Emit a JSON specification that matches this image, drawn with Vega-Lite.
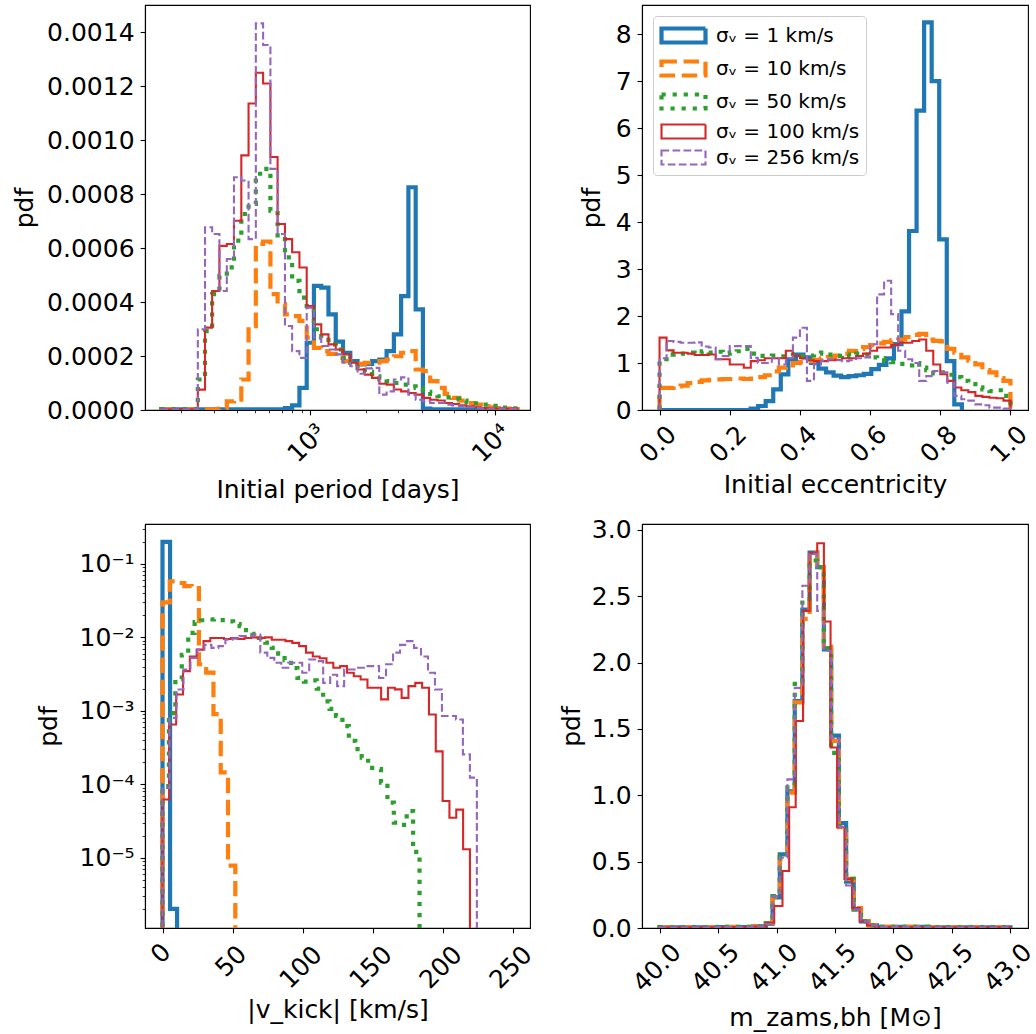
{
"$schema": "https://vega.github.io/schema/vega-lite/v6.json",
"autosize": {"type": "pad"},
"padding": {"left": 11, "top": 4, "right": 5, "bottom": 5},
"config": {
 "font": "DejaVu Sans",
 "view": {"stroke": "black", "strokeWidth": 1.1},
 "axis": {"grid": false, "domainColor": "black", "domainWidth": 1.1, "tickColor": "black", "tickWidth": 1.1, "tickSize": 4.9, "labelFont": "DejaVu Sans", "labelFontSize": 25, "labelColor": "black", "titleFont": "DejaVu Sans", "titleFontSize": 25, "titleFontWeight": "normal", "titleColor": "black", "labelFlush": false, "labelOverlap": false, "labelBound": false, "labelPadding": 6},
 "axisX": {"labelAngle": -45, "labelAlign": "center", "labelBaseline": "middle", "titleBaseline": "alphabetic"},
 "axisY": {"titleBaseline": "bottom", "titleAngle": -90},
 "legend": {"orient": "top-left", "offset": 11, "padding": 6, "fillColor": "rgba(255,255,255,0.8)", "strokeColor": "#cccccc", "cornerRadius": 4, "symbolType": "M-1,-0.636L3,-0.636L3,0.636L-1,0.636Z", "symbolSize": 484, "symbolFillColor": "transparent", "labelFont": "DejaVu Sans", "labelFontSize": 20, "labelColor": "black", "labelOffset": 30, "rowPadding": 2}
},
"datasets": {
"tl": [
{"s":"1","x":155.9,"y":0},{"s":"1","x":156,"y":0.000002},{"s":"1","x":729,"y":0.000007},{"s":"1","x":797,"y":0.000017},{"s":"1","x":873,"y":0.000082},{"s":"1","x":956,"y":0.000249},{"s":"1","x":1046,"y":0.00046},{"s":"1","x":1146,"y":0.000453},{"s":"1","x":1254,"y":0.000354},{"s":"1","x":1373,"y":0.000253},{"s":"1","x":1503,"y":0.000212},{"s":"1","x":1646,"y":0.000181},{"s":"1","x":1802,"y":0.000169},{"s":"1","x":1972,"y":0.000171},{"s":"1","x":2160,"y":0.000181},{"s":"1","x":2364,"y":0.000187},{"s":"1","x":2588,"y":0.000218},{"s":"1","x":2834,"y":0.00028},{"s":"1","x":3102,"y":0.000422},{"s":"1","x":3397,"y":0.000825},{"s":"1","x":3719,"y":0.000373},{"s":"1","x":4071,"y":0.000005},{"s":"1","x":4458,"y":0.000002},{"s":"1","x":13218,"y":0},
{"s":"10","x":155.9,"y":0},{"s":"10","x":156,"y":0.000002},{"s":"10","x":322,"y":0.000005},{"s":"10","x":353,"y":0.000032},{"s":"10","x":386,"y":0.000038},{"s":"10","x":423,"y":0.000113},{"s":"10","x":463,"y":0.000311},{"s":"10","x":507,"y":0.000615},{"s":"10","x":555,"y":0.000624},{"s":"10","x":608,"y":0.000429},{"s":"10","x":665,"y":0.000392},{"s":"10","x":729,"y":0.000354},{"s":"10","x":797,"y":0.000348},{"s":"10","x":873,"y":0.00033},{"s":"10","x":956,"y":0.000268},{"s":"10","x":1046,"y":0.00023},{"s":"10","x":1146,"y":0.000218},{"s":"10","x":1254,"y":0.000208},{"s":"10","x":1373,"y":0.000193},{"s":"10","x":1503,"y":0.000181},{"s":"10","x":1646,"y":0.000175},{"s":"10","x":1802,"y":0.000171},{"s":"10","x":1972,"y":0.000175},{"s":"10","x":2364,"y":0.000181},{"s":"10","x":2588,"y":0.000187},{"s":"10","x":2834,"y":0.000199},{"s":"10","x":3102,"y":0.000212},{"s":"10","x":3397,"y":0.000218},{"s":"10","x":3719,"y":0.00015},{"s":"10","x":4071,"y":0.000144},{"s":"10","x":4458,"y":0.000107},{"s":"10","x":4880,"y":0.000082},{"s":"10","x":5343,"y":0.00006},{"s":"10","x":5849,"y":0.000045},{"s":"10","x":6403,"y":0.000035},{"s":"10","x":7012,"y":0.000026},{"s":"10","x":7676,"y":0.00002},{"s":"10","x":8404,"y":0.000014},{"s":"10","x":9201,"y":0.00001},{"s":"10","x":10072,"y":0.000007},{"s":"10","x":11027,"y":0.000005},{"s":"10","x":12073,"y":0.000003},{"s":"10","x":13218,"y":0},
{"s":"50","x":155.9,"y":0},{"s":"50","x":156,"y":0.000003},{"s":"50","x":246,"y":0.000113},{"s":"50","x":269,"y":0.000292},{"s":"50","x":294,"y":0.000429},{"s":"50","x":322,"y":0.000497},{"s":"50","x":353,"y":0.000528},{"s":"50","x":386,"y":0.000627},{"s":"50","x":423,"y":0.000726},{"s":"50","x":463,"y":0.000763},{"s":"50","x":507,"y":0.000875},{"s":"50","x":555,"y":0.000893},{"s":"50","x":608,"y":0.000738},{"s":"50","x":665,"y":0.000633},{"s":"50","x":729,"y":0.000565},{"s":"50","x":797,"y":0.000478},{"s":"50","x":873,"y":0.000416},{"s":"50","x":956,"y":0.000385},{"s":"50","x":1046,"y":0.000299},{"s":"50","x":1146,"y":0.000268},{"s":"50","x":1254,"y":0.000243},{"s":"50","x":1373,"y":0.000224},{"s":"50","x":1503,"y":0.000193},{"s":"50","x":1646,"y":0.000175},{"s":"50","x":1802,"y":0.000156},{"s":"50","x":1972,"y":0.000141},{"s":"50","x":2160,"y":0.000125},{"s":"50","x":2364,"y":0.000113},{"s":"50","x":2588,"y":0.000107},{"s":"50","x":2834,"y":0.0001},{"s":"50","x":3102,"y":0.000094},{"s":"50","x":3397,"y":0.000088},{"s":"50","x":3719,"y":0.000082},{"s":"50","x":4071,"y":0.000067},{"s":"50","x":4458,"y":0.00006},{"s":"50","x":4880,"y":0.000051},{"s":"50","x":5343,"y":0.000047},{"s":"50","x":5849,"y":0.000042},{"s":"50","x":6403,"y":0.000035},{"s":"50","x":7012,"y":0.00003},{"s":"50","x":7676,"y":0.000025},{"s":"50","x":8404,"y":0.00002},{"s":"50","x":9201,"y":0.000015},{"s":"50","x":10072,"y":0.000012},{"s":"50","x":11027,"y":0.000009},{"s":"50","x":12073,"y":0.000006},{"s":"50","x":13218,"y":0},
{"s":"100","x":155.9,"y":0},{"s":"100","x":156,"y":0.000003},{"s":"100","x":246,"y":0.0000756},{"s":"100","x":269,"y":0.000305},{"s":"100","x":294,"y":0.000441},{"s":"100","x":322,"y":0.000608},{"s":"100","x":353,"y":0.000615},{"s":"100","x":386,"y":0.000701},{"s":"100","x":423,"y":0.000943},{"s":"100","x":463,"y":0.001135},{"s":"100","x":507,"y":0.001249},{"s":"100","x":555,"y":0.001209},{"s":"100","x":608,"y":0.000937},{"s":"100","x":665,"y":0.000689},{"s":"100","x":729,"y":0.000633},{"s":"100","x":797,"y":0.000584},{"s":"100","x":873,"y":0.000528},{"s":"100","x":956,"y":0.000385},{"s":"100","x":1046,"y":0.000317},{"s":"100","x":1146,"y":0.00028},{"s":"100","x":1254,"y":0.000243},{"s":"100","x":1373,"y":0.000224},{"s":"100","x":1503,"y":0.000206},{"s":"100","x":1646,"y":0.000175},{"s":"100","x":1802,"y":0.00015},{"s":"100","x":1972,"y":0.000131},{"s":"100","x":2160,"y":0.000119},{"s":"100","x":2364,"y":0.000097},{"s":"100","x":2588,"y":0.000094},{"s":"100","x":2834,"y":0.000076},{"s":"100","x":3102,"y":0.000069},{"s":"100","x":3397,"y":0.000063},{"s":"100","x":3719,"y":0.000057},{"s":"100","x":4071,"y":0.000045},{"s":"100","x":4458,"y":0.000038},{"s":"100","x":4880,"y":0.000035},{"s":"100","x":5343,"y":0.000026},{"s":"100","x":5849,"y":0.000022},{"s":"100","x":6403,"y":0.000017},{"s":"100","x":7012,"y":0.000014},{"s":"100","x":7676,"y":0.00001},{"s":"100","x":8404,"y":0.000007},{"s":"100","x":9201,"y":0.000005},{"s":"100","x":13218,"y":0},
{"s":"256","x":155.9,"y":0},{"s":"256","x":156,"y":0.000003},{"s":"256","x":246,"y":0.000299},{"s":"256","x":269,"y":0.000677},{"s":"256","x":294,"y":0.000652},{"s":"256","x":322,"y":0.000441},{"s":"256","x":353,"y":0.000559},{"s":"256","x":386,"y":0.000862},{"s":"256","x":423,"y":0.00085},{"s":"256","x":463,"y":0.000633},{"s":"256","x":507,"y":0.001432},{"s":"256","x":555,"y":0.001352},{"s":"256","x":608,"y":0.000893},{"s":"256","x":665,"y":0.000652},{"s":"256","x":729,"y":0.000311},{"s":"256","x":797,"y":0.000218},{"s":"256","x":873,"y":0.000193},{"s":"256","x":956,"y":0.000379},{"s":"256","x":1046,"y":0.000268},{"s":"256","x":1146,"y":0.000237},{"s":"256","x":1254,"y":0.000224},{"s":"256","x":1373,"y":0.000206},{"s":"256","x":1503,"y":0.000175},{"s":"256","x":1646,"y":0.000162},{"s":"256","x":1802,"y":0.000134},{"s":"256","x":1972,"y":0.000154},{"s":"256","x":2160,"y":0.000156},{"s":"256","x":2364,"y":0.000057},{"s":"256","x":2588,"y":0.000069},{"s":"256","x":2834,"y":0.000113},{"s":"256","x":3102,"y":0.000121},{"s":"256","x":3397,"y":0.000057},{"s":"256","x":3719,"y":0.000038},{"s":"256","x":4071,"y":0.000032},{"s":"256","x":4458,"y":0.000026},{"s":"256","x":5343,"y":0.00002},{"s":"256","x":5849,"y":0.000017},{"s":"256","x":6403,"y":0.000014},{"s":"256","x":7012,"y":0.00001},{"s":"256","x":7676,"y":0.000007},{"s":"256","x":8404,"y":0.000005},{"s":"256","x":13218,"y":0}
],
"tr": [
{"s":"1","x":-0.0001,"y":0},{"s":"1","x":0.2595,"y":0.03},{"s":"1","x":0.281,"y":0.085},{"s":"1","x":0.3025,"y":0.19},{"s":"1","x":0.324,"y":0.44},{"s":"1","x":0.3455,"y":0.76},{"s":"1","x":0.367,"y":1.08},{"s":"1","x":0.3885,"y":1.18},{"s":"1","x":0.41,"y":1.12},{"s":"1","x":0.4315,"y":1.0},{"s":"1","x":0.453,"y":0.88},{"s":"1","x":0.4745,"y":0.8},{"s":"1","x":0.496,"y":0.73},{"s":"1","x":0.5175,"y":0.7},{"s":"1","x":0.539,"y":0.72},{"s":"1","x":0.5605,"y":0.74},{"s":"1","x":0.582,"y":0.77},{"s":"1","x":0.6035,"y":0.87},{"s":"1","x":0.625,"y":0.96},{"s":"1","x":0.6465,"y":1.1},{"s":"1","x":0.668,"y":1.4},{"s":"1","x":0.6895,"y":2.1},{"s":"1","x":0.711,"y":3.81},{"s":"1","x":0.7325,"y":6.37},{"s":"1","x":0.754,"y":8.25},{"s":"1","x":0.7755,"y":7.0},{"s":"1","x":0.797,"y":3.63},{"s":"1","x":0.8185,"y":1.04},{"s":"1","x":0.84,"y":0.12},{"s":"1","x":0.8615,"y":0},
{"s":"10","x":-0.0001,"y":0},{"s":"10","x":0,"y":0.47},{"s":"10","x":0.04,"y":0.5},{"s":"10","x":0.06,"y":0.52},{"s":"10","x":0.08,"y":0.57},{"s":"10","x":0.1,"y":0.6},{"s":"10","x":0.12,"y":0.63},{"s":"10","x":0.14,"y":0.64},{"s":"10","x":0.16,"y":0.65},{"s":"10","x":0.18,"y":0.66},{"s":"10","x":0.22,"y":0.67},{"s":"10","x":0.24,"y":0.66},{"s":"10","x":0.26,"y":0.67},{"s":"10","x":0.28,"y":0.7},{"s":"10","x":0.3,"y":0.74},{"s":"10","x":0.32,"y":0.82},{"s":"10","x":0.34,"y":0.9},{"s":"10","x":0.36,"y":0.95},{"s":"10","x":0.38,"y":1.0},{"s":"10","x":0.4,"y":1.02},{"s":"10","x":0.42,"y":1.04},{"s":"10","x":0.44,"y":1.07},{"s":"10","x":0.46,"y":1.1},{"s":"10","x":0.48,"y":1.13},{"s":"10","x":0.5,"y":1.16},{"s":"10","x":0.52,"y":1.2},{"s":"10","x":0.54,"y":1.26},{"s":"10","x":0.56,"y":1.3},{"s":"10","x":0.58,"y":1.34},{"s":"10","x":0.6,"y":1.38},{"s":"10","x":0.62,"y":1.42},{"s":"10","x":0.64,"y":1.45},{"s":"10","x":0.66,"y":1.48},{"s":"10","x":0.68,"y":1.5},{"s":"10","x":0.7,"y":1.55},{"s":"10","x":0.72,"y":1.6},{"s":"10","x":0.74,"y":1.62},{"s":"10","x":0.76,"y":1.5},{"s":"10","x":0.78,"y":1.47},{"s":"10","x":0.8,"y":1.46},{"s":"10","x":0.82,"y":1.3},{"s":"10","x":0.84,"y":1.22},{"s":"10","x":0.86,"y":1.12},{"s":"10","x":0.88,"y":1.05},{"s":"10","x":0.9,"y":0.97},{"s":"10","x":0.92,"y":0.85},{"s":"10","x":0.94,"y":0.8},{"s":"10","x":0.96,"y":0.68},{"s":"10","x":0.98,"y":0.62},{"s":"10","x":1.0,"y":0},
{"s":"50","x":-0.0001,"y":0},{"s":"50","x":0,"y":1.08},{"s":"50","x":0.02,"y":1.18},{"s":"50","x":0.04,"y":1.2},{"s":"50","x":0.08,"y":1.22},{"s":"50","x":0.1,"y":1.2},{"s":"50","x":0.12,"y":1.25},{"s":"50","x":0.14,"y":1.22},{"s":"50","x":0.16,"y":1.24},{"s":"50","x":0.18,"y":1.2},{"s":"50","x":0.2,"y":1.22},{"s":"50","x":0.22,"y":1.25},{"s":"50","x":0.24,"y":1.3},{"s":"50","x":0.26,"y":1.2},{"s":"50","x":0.28,"y":1.15},{"s":"50","x":0.32,"y":1.16},{"s":"50","x":0.34,"y":1.14},{"s":"50","x":0.36,"y":1.15},{"s":"50","x":0.38,"y":1.18},{"s":"50","x":0.4,"y":1.15},{"s":"50","x":0.42,"y":1.16},{"s":"50","x":0.44,"y":1.2},{"s":"50","x":0.46,"y":1.22},{"s":"50","x":0.48,"y":1.18},{"s":"50","x":0.5,"y":1.15},{"s":"50","x":0.52,"y":1.18},{"s":"50","x":0.54,"y":1.15},{"s":"50","x":0.56,"y":1.2},{"s":"50","x":0.58,"y":1.18},{"s":"50","x":0.6,"y":1.12},{"s":"50","x":0.62,"y":1.1},{"s":"50","x":0.64,"y":1.04},{"s":"50","x":0.66,"y":1.02},{"s":"50","x":0.68,"y":0.98},{"s":"50","x":0.7,"y":0.95},{"s":"50","x":0.72,"y":1.0},{"s":"50","x":0.74,"y":0.9},{"s":"50","x":0.76,"y":0.85},{"s":"50","x":0.78,"y":0.78},{"s":"50","x":0.8,"y":0.8},{"s":"50","x":0.82,"y":0.75},{"s":"50","x":0.84,"y":0.7},{"s":"50","x":0.86,"y":0.62},{"s":"50","x":0.88,"y":0.55},{"s":"50","x":0.9,"y":0.48},{"s":"50","x":0.92,"y":0.44},{"s":"50","x":0.94,"y":0.4},{"s":"50","x":0.96,"y":0.42},{"s":"50","x":0.98,"y":0.3},{"s":"50","x":1.0,"y":0},
{"s":"100","x":-0.0001,"y":0},{"s":"100","x":0,"y":1.54},{"s":"100","x":0.02,"y":1.27},{"s":"100","x":0.04,"y":1.22},{"s":"100","x":0.08,"y":1.2},{"s":"100","x":0.1,"y":1.17},{"s":"100","x":0.14,"y":1.18},{"s":"100","x":0.16,"y":1.08},{"s":"100","x":0.2,"y":0.97},{"s":"100","x":0.24,"y":0.9},{"s":"100","x":0.26,"y":1.04},{"s":"100","x":0.28,"y":1.06},{"s":"100","x":0.3,"y":1.1},{"s":"100","x":0.36,"y":1.26},{"s":"100","x":0.38,"y":1.15},{"s":"100","x":0.4,"y":1.1},{"s":"100","x":0.42,"y":1.06},{"s":"100","x":0.44,"y":1.04},{"s":"100","x":0.48,"y":1.06},{"s":"100","x":0.5,"y":1.07},{"s":"100","x":0.52,"y":1.1},{"s":"100","x":0.56,"y":1.15},{"s":"100","x":0.58,"y":1.2},{"s":"100","x":0.6,"y":1.26},{"s":"100","x":0.62,"y":1.33},{"s":"100","x":0.66,"y":1.38},{"s":"100","x":0.68,"y":1.43},{"s":"100","x":0.72,"y":1.47},{"s":"100","x":0.74,"y":1.5},{"s":"100","x":0.76,"y":1.26},{"s":"100","x":0.78,"y":0.97},{"s":"100","x":0.8,"y":0.76},{"s":"100","x":0.82,"y":0.62},{"s":"100","x":0.84,"y":0.48},{"s":"100","x":0.86,"y":0.42},{"s":"100","x":0.88,"y":0.38},{"s":"100","x":0.9,"y":0.3},{"s":"100","x":0.92,"y":0.28},{"s":"100","x":0.94,"y":0.26},{"s":"100","x":0.96,"y":0.25},{"s":"100","x":0.98,"y":0.2},{"s":"100","x":1.0,"y":0},
{"s":"256","x":-0.0001,"y":0},{"s":"256","x":0,"y":1.1},{"s":"256","x":0.02,"y":1.47},{"s":"256","x":0.04,"y":1.45},{"s":"256","x":0.06,"y":1.43},{"s":"256","x":0.1,"y":1.44},{"s":"256","x":0.12,"y":1.35},{"s":"256","x":0.14,"y":1.33},{"s":"256","x":0.16,"y":1.08},{"s":"256","x":0.18,"y":1.15},{"s":"256","x":0.2,"y":1.36},{"s":"256","x":0.26,"y":1.11},{"s":"256","x":0.28,"y":1.0},{"s":"256","x":0.32,"y":1.1},{"s":"256","x":0.34,"y":0.97},{"s":"256","x":0.36,"y":1.1},{"s":"256","x":0.38,"y":1.54},{"s":"256","x":0.4,"y":1.75},{"s":"256","x":0.42,"y":0.62},{"s":"256","x":0.44,"y":0.97},{"s":"256","x":0.46,"y":1.05},{"s":"256","x":0.48,"y":1.08},{"s":"256","x":0.5,"y":1.06},{"s":"256","x":0.52,"y":1.04},{"s":"256","x":0.54,"y":1.06},{"s":"256","x":0.56,"y":1.1},{"s":"256","x":0.58,"y":1.12},{"s":"256","x":0.6,"y":1.4},{"s":"256","x":0.62,"y":2.46},{"s":"256","x":0.64,"y":2.75},{"s":"256","x":0.66,"y":2.04},{"s":"256","x":0.68,"y":1.26},{"s":"256","x":0.7,"y":1.08},{"s":"256","x":0.72,"y":1.0},{"s":"256","x":0.74,"y":0.62},{"s":"256","x":0.76,"y":0.72},{"s":"256","x":0.78,"y":0.83},{"s":"256","x":0.8,"y":0.8},{"s":"256","x":0.82,"y":0.58},{"s":"256","x":0.84,"y":0.3},{"s":"256","x":0.86,"y":0.23},{"s":"256","x":0.88,"y":0.2},{"s":"256","x":0.9,"y":0.12},{"s":"256","x":0.92,"y":0.1},{"s":"256","x":0.94,"y":0.05},{"s":"256","x":0.98,"y":0.03},{"s":"256","x":1.0,"y":0}
],
"bl": [
{"s":"1","x":-0.01,"y":1e-7},{"s":"1","x":0,"y":0.2},{"s":"1","x":5.4,"y":0.000002},{"s":"1","x":10.4,"y":1e-7},
{"s":"10","x":-0.01,"y":1e-7},{"s":"10","x":0,"y":0.03},{"s":"10","x":5.2,"y":0.058},{"s":"10","x":10.4,"y":0.055},{"s":"10","x":15.6,"y":0.05},{"s":"10","x":20.8,"y":0.047},{"s":"10","x":26,"y":0.0043},{"s":"10","x":31.2,"y":0.0033},{"s":"10","x":36.4,"y":0.0009},{"s":"10","x":41.6,"y":0.000145},{"s":"10","x":46.8,"y":0.0000078},{"s":"10","x":52,"y":1e-7},
{"s":"50","x":-0.01,"y":1e-7},{"s":"50","x":0,"y":0.000094},{"s":"50","x":4.59,"y":0.00093},{"s":"50","x":9.18,"y":0.0027},{"s":"50","x":13.77,"y":0.0058},{"s":"50","x":18.36,"y":0.0115},{"s":"50","x":22.95,"y":0.0161},{"s":"50","x":27.54,"y":0.0171},{"s":"50","x":32.13,"y":0.0175},{"s":"50","x":36.72,"y":0.0176},{"s":"50","x":41.31,"y":0.0172},{"s":"50","x":45.9,"y":0.0165},{"s":"50","x":50.49,"y":0.0152},{"s":"50","x":55.08,"y":0.0142},{"s":"50","x":59.67,"y":0.0125},{"s":"50","x":64.26,"y":0.0112},{"s":"50","x":68.85,"y":0.0098},{"s":"50","x":73.44,"y":0.0085},{"s":"50","x":78.03,"y":0.0072},{"s":"50","x":82.62,"y":0.006},{"s":"50","x":87.21,"y":0.0049},{"s":"50","x":91.8,"y":0.0038},{"s":"50","x":96.39,"y":0.0028},{"s":"50","x":100.98,"y":0.0025},{"s":"50","x":105.57,"y":0.0026},{"s":"50","x":110.16,"y":0.002},{"s":"50","x":114.75,"y":0.00134},{"s":"50","x":119.34,"y":0.00106},{"s":"50","x":123.93,"y":0.00085},{"s":"50","x":128.52,"y":0.00062},{"s":"50","x":133.11,"y":0.00039},{"s":"50","x":137.7,"y":0.0003},{"s":"50","x":142.29,"y":0.00023},{"s":"50","x":146.88,"y":0.000167},{"s":"50","x":151.47,"y":0.00016},{"s":"50","x":156.06,"y":0.000105},{"s":"50","x":160.65,"y":0.000056},{"s":"50","x":165.24,"y":0.00003},{"s":"50","x":169.83,"y":0.000028},{"s":"50","x":174.42,"y":0.000043},{"s":"50","x":179.01,"y":0.000012},{"s":"50","x":183.6,"y":1e-7},
{"s":"100","x":-0.01,"y":1e-7},{"s":"100","x":0,"y":0.000062},{"s":"100","x":4.88,"y":0.00065},{"s":"100","x":9.76,"y":0.00167},{"s":"100","x":14.64,"y":0.00347},{"s":"100","x":19.52,"y":0.0055},{"s":"100","x":24.4,"y":0.0068},{"s":"100","x":29.28,"y":0.0089},{"s":"100","x":34.16,"y":0.0098},{"s":"100","x":43.92,"y":0.0095},{"s":"100","x":48.8,"y":0.0098},{"s":"100","x":53.68,"y":0.0095},{"s":"100","x":58.56,"y":0.0098},{"s":"100","x":63.44,"y":0.01},{"s":"100","x":68.32,"y":0.0098},{"s":"100","x":73.2,"y":0.01},{"s":"100","x":78.08,"y":0.0093},{"s":"100","x":87.84,"y":0.0089},{"s":"100","x":92.72,"y":0.0084},{"s":"100","x":97.6,"y":0.0076},{"s":"100","x":102.48,"y":0.0062},{"s":"100","x":107.36,"y":0.0055},{"s":"100","x":112.24,"y":0.0052},{"s":"100","x":117.12,"y":0.0045},{"s":"100","x":122,"y":0.00385},{"s":"100","x":126.88,"y":0.00406},{"s":"100","x":131.76,"y":0.0033},{"s":"100","x":136.64,"y":0.00296},{"s":"100","x":141.52,"y":0.00267},{"s":"100","x":146.4,"y":0.00206},{"s":"100","x":156.16,"y":0.00143},{"s":"100","x":161.04,"y":0.00206},{"s":"100","x":165.92,"y":0.00196},{"s":"100","x":170.8,"y":0.0015},{"s":"100","x":175.68,"y":0.00217},{"s":"100","x":180.56,"y":0.0024},{"s":"100","x":185.44,"y":0.00206},{"s":"100","x":190.32,"y":0.00089},{"s":"100","x":195.2,"y":0.00028},{"s":"100","x":200.08,"y":0.000059},{"s":"100","x":204.96,"y":0.000035},{"s":"100","x":209.84,"y":0.000045},{"s":"100","x":214.72,"y":0.000013},{"s":"100","x":219.6,"y":1e-7},
{"s":"256","x":-0.01,"y":1e-7},{"s":"256","x":0,"y":0.000089},{"s":"256","x":4.99,"y":0.0008},{"s":"256","x":9.98,"y":0.00195},{"s":"256","x":14.97,"y":0.00365},{"s":"256","x":19.96,"y":0.00525},{"s":"256","x":24.95,"y":0.0068},{"s":"256","x":29.94,"y":0.0079},{"s":"256","x":34.93,"y":0.0072},{"s":"256","x":39.92,"y":0.0076},{"s":"256","x":44.91,"y":0.0093},{"s":"256","x":49.9,"y":0.0096},{"s":"256","x":54.89,"y":0.0104},{"s":"256","x":64.87,"y":0.0109},{"s":"256","x":69.86,"y":0.0062},{"s":"256","x":74.85,"y":0.00525},{"s":"256","x":79.84,"y":0.0045},{"s":"256","x":84.83,"y":0.00385},{"s":"256","x":89.82,"y":0.0045},{"s":"256","x":99.8,"y":0.0033},{"s":"256","x":104.79,"y":0.005},{"s":"256","x":109.78,"y":0.00475},{"s":"256","x":114.77,"y":0.0024},{"s":"256","x":119.76,"y":0.0031},{"s":"256","x":124.75,"y":0.00217},{"s":"256","x":129.74,"y":0.00365},{"s":"256","x":139.72,"y":0.00385},{"s":"256","x":144.71,"y":0.00406},{"s":"256","x":154.69,"y":0.0028},{"s":"256","x":159.68,"y":0.0043},{"s":"256","x":164.67,"y":0.0062},{"s":"256","x":169.66,"y":0.0079},{"s":"256","x":174.65,"y":0.0089},{"s":"256","x":179.64,"y":0.0072},{"s":"256","x":184.63,"y":0.0055},{"s":"256","x":189.62,"y":0.0033},{"s":"256","x":194.61,"y":0.00195},{"s":"256","x":199.6,"y":0.00085},{"s":"256","x":209.58,"y":0.00076},{"s":"256","x":214.57,"y":0.000255},{"s":"256","x":219.56,"y":0.000123},{"s":"256","x":224.55,"y":1e-7}
],
"br": [
{"s":"1","x":39.999,"y":0},{"s":"1","x":40,"y":0.005},{"s":"1","x":40.5,"y":0.007},{"s":"1","x":40.8,"y":0.012},{"s":"1","x":40.909,"y":0.03},{"s":"1","x":40.966,"y":0.23},{"s":"1","x":41.028,"y":0.555},{"s":"1","x":41.093,"y":1.03},{"s":"1","x":41.156,"y":1.71},{"s":"1","x":41.221,"y":2.4},{"s":"1","x":41.283,"y":2.83},{"s":"1","x":41.348,"y":2.72},{"s":"1","x":41.405,"y":2.1},{"s":"1","x":41.467,"y":1.45},{"s":"1","x":41.533,"y":0.79},{"s":"1","x":41.595,"y":0.35},{"s":"1","x":41.66,"y":0.14},{"s":"1","x":41.722,"y":0.05},{"s":"1","x":41.788,"y":0.02},{"s":"1","x":41.858,"y":0.008},{"s":"1","x":42.3,"y":0.005},{"s":"1","x":43,"y":0},
{"s":"10","x":39.999,"y":0},{"s":"10","x":40,"y":0.005},{"s":"10","x":40.5,"y":0.008},{"s":"10","x":40.8,"y":0.012},{"s":"10","x":40.909,"y":0.035},{"s":"10","x":40.966,"y":0.23},{"s":"10","x":41.028,"y":0.52},{"s":"10","x":41.093,"y":1.02},{"s":"10","x":41.156,"y":1.7},{"s":"10","x":41.221,"y":2.33},{"s":"10","x":41.283,"y":2.83},{"s":"10","x":41.348,"y":2.74},{"s":"10","x":41.405,"y":2.12},{"s":"10","x":41.467,"y":1.41},{"s":"10","x":41.533,"y":0.76},{"s":"10","x":41.595,"y":0.37},{"s":"10","x":41.66,"y":0.15},{"s":"10","x":41.722,"y":0.05},{"s":"10","x":41.788,"y":0.02},{"s":"10","x":41.858,"y":0.008},{"s":"10","x":42.3,"y":0.005},{"s":"10","x":43,"y":0},
{"s":"50","x":39.999,"y":0},{"s":"50","x":40,"y":0.006},{"s":"50","x":40.5,"y":0.008},{"s":"50","x":40.8,"y":0.012},{"s":"50","x":40.909,"y":0.035},{"s":"50","x":40.966,"y":0.24},{"s":"50","x":41.028,"y":0.54},{"s":"50","x":41.093,"y":1.08},{"s":"50","x":41.156,"y":1.84},{"s":"50","x":41.221,"y":2.48},{"s":"50","x":41.283,"y":2.77},{"s":"50","x":41.348,"y":2.72},{"s":"50","x":41.405,"y":2.11},{"s":"50","x":41.467,"y":1.32},{"s":"50","x":41.533,"y":0.77},{"s":"50","x":41.595,"y":0.37},{"s":"50","x":41.66,"y":0.14},{"s":"50","x":41.722,"y":0.05},{"s":"50","x":41.788,"y":0.02},{"s":"50","x":41.858,"y":0.008},{"s":"50","x":42.3,"y":0.006},{"s":"50","x":43,"y":0},
{"s":"100","x":39.999,"y":0},{"s":"100","x":40,"y":0.005},{"s":"100","x":40.5,"y":0.007},{"s":"100","x":40.8,"y":0.01},{"s":"100","x":40.909,"y":0.04},{"s":"100","x":40.98,"y":0.166},{"s":"100","x":41.051,"y":0.43},{"s":"100","x":41.108,"y":0.91},{"s":"100","x":41.164,"y":1.56},{"s":"100","x":41.227,"y":2.39},{"s":"100","x":41.283,"y":2.83},{"s":"100","x":41.348,"y":2.9},{"s":"100","x":41.405,"y":2.31},{"s":"100","x":41.462,"y":1.36},{"s":"100","x":41.518,"y":0.76},{"s":"100","x":41.581,"y":0.37},{"s":"100","x":41.646,"y":0.15},{"s":"100","x":41.711,"y":0.05},{"s":"100","x":41.773,"y":0.02},{"s":"100","x":41.844,"y":0.008},{"s":"100","x":42.3,"y":0.005},{"s":"100","x":43,"y":0},
{"s":"256","x":39.999,"y":0},{"s":"256","x":40,"y":0.005},{"s":"256","x":40.5,"y":0.007},{"s":"256","x":40.8,"y":0.012},{"s":"256","x":40.909,"y":0.03},{"s":"256","x":40.966,"y":0.24},{"s":"256","x":41.028,"y":0.53},{"s":"256","x":41.093,"y":1.12},{"s":"256","x":41.156,"y":1.81},{"s":"256","x":41.221,"y":2.58},{"s":"256","x":41.283,"y":2.82},{"s":"256","x":41.348,"y":2.39},{"s":"256","x":41.405,"y":2.09},{"s":"256","x":41.467,"y":1.43},{"s":"256","x":41.533,"y":0.76},{"s":"256","x":41.595,"y":0.32},{"s":"256","x":41.66,"y":0.14},{"s":"256","x":41.722,"y":0.05},{"s":"256","x":41.788,"y":0.02},{"s":"256","x":41.858,"y":0.008},{"s":"256","x":42.3,"y":0.005},{"s":"256","x":43,"y":0}
]
},
"columns": 2,
"spacing": {"row": 114, "column": 112},
"bounds": "flush",
"resolve": {"scale": {"color": "independent", "strokeDash": "independent", "strokeWidth": "independent"}, "legend": {"color": "independent", "strokeDash": "independent", "strokeWidth": "independent"}},
"concat": [
{
 "width": 385, "height": 405,
 "data": {"name": "tl"},
 "mark": {"type": "line", "interpolate": "step-after", "clip": true},
 "encoding": {
  "x": {"field": "x", "type": "quantitative", "scale": {"type": "log", "domain": [127.3, 15470], "nice": false},
   "axis": {"title": "Initial period [days]", "values": [200,300,400,500,600,700,800,900,1000,2000,3000,4000,5000,6000,7000,8000,9000,10000],
    "labelExpr": "datum.value == 1000 ? '10³' : datum.value == 10000 ? '10⁴' : ''",
    "tickSize": {"condition": {"test": "datum.value == 1000 || datum.value == 10000", "value": 4.9}, "value": 2.8},
    "tickWidth": {"condition": {"test": "datum.value == 1000 || datum.value == 10000", "value": 1.1}, "value": 0.8},
    "labelPadding": 28, "labelOffset": -4, "titleY": 87}},
  "y": {"field": "y", "type": "quantitative", "scale": {"domain": [0, 0.0015], "nice": false, "zero": false},
   "axis": {"title": "pdf", "values": [0,0.0002,0.0004,0.0006,0.0008,0.001,0.0012,0.0014], "format": ".4f", "titleX": -108}},
  "color": {"field": "s", "type": "nominal", "scale": {"domain": ["1","10","50","100","256"], "range": ["#1f77b4","#ff7f0e","#2ca02c","#d62728","#9467bd"]}, "legend": null},
  "strokeDash": {"field": "s", "type": "nominal", "scale": {"domain": ["1","10","50","100","256"], "range": [[1,0],[15.4,6.7],[4.2,6.9],[1,0],[7.7,3.3]]}, "legend": null},
  "strokeWidth": {"field": "s", "type": "nominal", "scale": {"type": "ordinal", "domain": ["1","10","50","100","256"], "range": [4.2,4.2,4.2,2.1,2.1]}, "legend": null}
 }
},
{
 "width": 386, "height": 405,
 "data": {"name": "tr"},
 "mark": {"type": "line", "interpolate": "step-after", "clip": true},
 "encoding": {
  "x": {"field": "x", "type": "quantitative", "scale": {"domain": [-0.05, 1.05], "nice": false, "zero": false},
   "axis": {"title": "Initial eccentricity", "values": [0,0.2,0.4,0.6,0.8,1.0], "format": ".1f", "labelPadding": 29, "labelOffset": -2, "titleY": 82}},
  "y": {"field": "y", "type": "quantitative", "scale": {"domain": [0, 8.62], "nice": false, "zero": false},
   "axis": {"title": "pdf", "values": [0,1,2,3,4,5,6,7,8], "format": "d", "titleX": -38}},
  "color": {"field": "s", "type": "nominal", "scale": {"domain": ["1","10","50","100","256"], "range": ["#1f77b4","#ff7f0e","#2ca02c","#d62728","#9467bd"]}, "legend": {"title": null, "labelExpr": "'σᵥ = ' + datum.label + ' km/s'"}},
  "strokeDash": {"field": "s", "type": "nominal", "scale": {"domain": ["1","10","50","100","256"], "range": [[1,0],[15.4,6.7],[4.2,6.9],[1,0],[7.7,3.3]]}, "legend": {"title": null, "labelExpr": "'σᵥ = ' + datum.label + ' km/s'"}},
  "strokeWidth": {"field": "s", "type": "nominal", "scale": {"type": "ordinal", "domain": ["1","10","50","100","256"], "range": [4.2,4.2,4.2,2.1,2.1]}, "legend": {"title": null, "labelExpr": "'σᵥ = ' + datum.label + ' km/s'"}}
 }
},
{
 "width": 385, "height": 404,
 "data": {"name": "bl"},
 "mark": {"type": "line", "interpolate": "step-after", "clip": true},
 "encoding": {
  "x": {"field": "x", "type": "quantitative", "scale": {"domain": [-12.5, 262.5], "nice": false, "zero": false},
   "axis": {"title": "|v_kick| [km/s]", "values": [0,50,100,150,200,250],
    "labelPadding": {"condition": [{"test": "datum.value < 10", "value": 20}, {"test": "datum.value < 100", "value": 28}], "value": 34},
    "labelOffset": -2, "titleY": 89}},
  "y": {"field": "y", "type": "quantitative", "scale": {"type": "log", "domain": [0.0000011, 0.35], "nice": false},
   "axis": {"title": "pdf", "values": [0.000002,0.000003,0.000004,0.000005,0.000006,0.000007,0.000008,0.000009,0.00001,0.00002,0.00003,0.00004,0.00005,0.00006,0.00007,0.00008,0.00009,0.0001,0.0002,0.0003,0.0004,0.0005,0.0006,0.0007,0.0008,0.0009,0.001,0.002,0.003,0.004,0.005,0.006,0.007,0.008,0.009,0.01,0.02,0.03,0.04,0.05,0.06,0.07,0.08,0.09,0.1,0.2,0.3],
    "labelExpr": "datum.value == 0.1 ? '10⁻¹' : datum.value == 0.01 ? '10⁻²' : datum.value == 0.001 ? '10⁻³' : datum.value == 0.0001 ? '10⁻⁴' : datum.value == 0.00001 ? '10⁻⁵' : ''",
    "tickSize": {"condition": {"test": "datum.value == 0.1 || datum.value == 0.01 || datum.value == 0.001 || datum.value == 0.0001 || datum.value == 0.00001", "value": 4.9}, "value": 2.8},
    "tickWidth": {"condition": {"test": "datum.value == 0.1 || datum.value == 0.01 || datum.value == 0.001 || datum.value == 0.0001 || datum.value == 0.00001", "value": 1.1}, "value": 0.8},
    "titleX": -84}},
  "color": {"field": "s", "type": "nominal", "scale": {"domain": ["1","10","50","100","256"], "range": ["#1f77b4","#ff7f0e","#2ca02c","#d62728","#9467bd"]}, "legend": null},
  "strokeDash": {"field": "s", "type": "nominal", "scale": {"domain": ["1","10","50","100","256"], "range": [[1,0],[15.4,6.7],[4.2,6.9],[1,0],[7.7,3.3]]}, "legend": null},
  "strokeWidth": {"field": "s", "type": "nominal", "scale": {"type": "ordinal", "domain": ["1","10","50","100","256"], "range": [4.2,4.2,4.2,2.1,2.1]}, "legend": null}
 }
},
{
 "width": 386, "height": 404,
 "data": {"name": "br"},
 "mark": {"type": "line", "interpolate": "step-after", "clip": true},
 "encoding": {
  "x": {"field": "x", "type": "quantitative", "scale": {"domain": [39.85, 43.15], "nice": false, "zero": false},
   "axis": {"title": "m_zams,bh [M⊙]", "values": [40,40.5,41,41.5,42,42.5,43], "format": ".1f", "labelPadding": 34.5, "labelOffset": -3, "titleY": 97}},
  "y": {"field": "y", "type": "quantitative", "scale": {"domain": [0, 3.045], "nice": false, "zero": false},
   "axis": {"title": "pdf", "values": [0,0.5,1,1.5,2,2.5,3], "format": ".1f", "titleX": -58}},
  "color": {"field": "s", "type": "nominal", "scale": {"domain": ["1","10","50","100","256"], "range": ["#1f77b4","#ff7f0e","#2ca02c","#d62728","#9467bd"]}, "legend": null},
  "strokeDash": {"field": "s", "type": "nominal", "scale": {"domain": ["1","10","50","100","256"], "range": [[1,0],[15.4,6.7],[4.2,6.9],[1,0],[7.7,3.3]]}, "legend": null},
  "strokeWidth": {"field": "s", "type": "nominal", "scale": {"type": "ordinal", "domain": ["1","10","50","100","256"], "range": [4.2,4.2,4.2,2.1,2.1]}, "legend": null}
 }
}
]
}
